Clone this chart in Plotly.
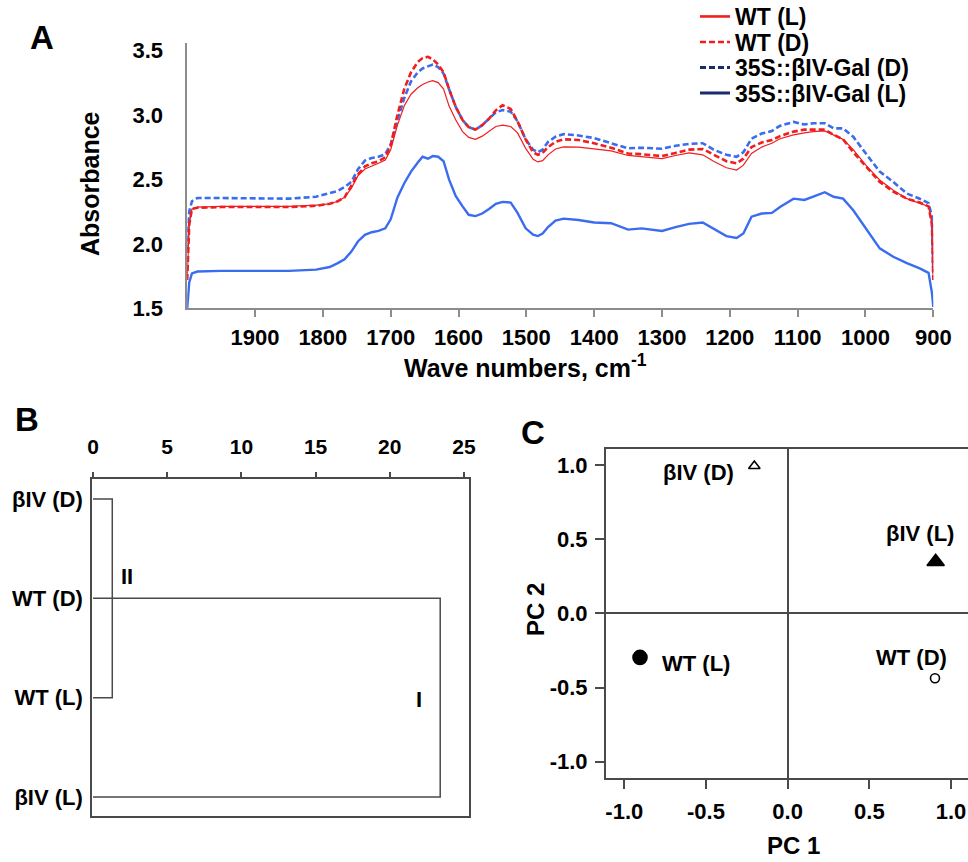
import plotly.graph_objects as go

# ---------------- Data ----------------
# Panel A: FTIR spectra (wave number, cm-1) and absorbance per sample
wave_numbers = [2000, 1997, 1993, 1985, 1950, 1900, 1850, 1810, 1790, 1778,
                1768, 1758, 1748, 1738, 1728, 1718, 1708, 1700, 1690, 1680,
                1670, 1660, 1653, 1645, 1638, 1630, 1622, 1614, 1604, 1594,
                1585, 1575, 1565, 1555, 1545, 1535, 1523, 1513, 1501, 1490,
                1483, 1476, 1468, 1457, 1445, 1423, 1400, 1375, 1350, 1330,
                1300, 1280, 1260, 1240, 1224, 1205, 1190, 1180, 1168, 1153,
                1138, 1126, 1106, 1090, 1077, 1060, 1047, 1033, 1018, 998,
                979, 959, 939, 920, 907, 902, 900]

wt_light = [1.72, 2.15, 2.27, 2.285, 2.29,
            2.29, 2.29, 2.30, 2.31, 2.33,
            2.36, 2.43, 2.53, 2.58, 2.60,
            2.625, 2.65, 2.73, 2.92, 3.07,
            3.16, 3.21, 3.235, 3.255, 3.265,
            3.25, 3.20, 3.07, 2.96, 2.87,
            2.825, 2.81, 2.835, 2.87, 2.91,
            2.92, 2.91, 2.86, 2.74, 2.655,
            2.635, 2.645, 2.69, 2.735, 2.752,
            2.75, 2.735, 2.72, 2.685, 2.675,
            2.66, 2.685, 2.705, 2.69, 2.64,
            2.59, 2.572, 2.61, 2.70, 2.75,
            2.78, 2.815, 2.845, 2.86, 2.87,
            2.875, 2.845, 2.81, 2.73, 2.60,
            2.495, 2.415, 2.35, 2.315, 2.29,
            2.16, 1.72]

wt_dark = [1.72, 2.15, 2.27, 2.28, 2.285,
           2.285, 2.285, 2.295, 2.31, 2.33,
           2.36, 2.45, 2.54, 2.60, 2.625,
           2.64, 2.67, 2.76, 3.00, 3.20,
           3.33, 3.41, 3.44, 3.45, 3.43,
           3.39, 3.33, 3.20, 3.06, 2.96,
           2.905, 2.885, 2.92, 2.97, 3.035,
           3.075, 3.045, 2.95, 2.81, 2.71,
           2.69, 2.705, 2.75, 2.79, 2.81,
           2.805, 2.78, 2.745, 2.70, 2.695,
           2.68, 2.705, 2.73, 2.735, 2.69,
           2.64, 2.624, 2.66, 2.75, 2.785,
           2.805, 2.835, 2.87, 2.885, 2.885,
           2.885, 2.845, 2.81, 2.71, 2.59,
           2.48, 2.405, 2.35, 2.32, 2.29,
           2.15, 1.72]

biv_dark = [1.95, 2.25, 2.33, 2.355, 2.355,
            2.35, 2.35, 2.365, 2.39, 2.41,
            2.44, 2.48, 2.58, 2.645, 2.665,
            2.675, 2.695, 2.77, 2.96, 3.13,
            3.26, 3.33, 3.36, 3.375, 3.39,
            3.37, 3.32, 3.20, 3.06, 2.96,
            2.905, 2.885, 2.92, 2.97, 3.02,
            3.037, 3.025, 2.95, 2.81, 2.73,
            2.71, 2.73, 2.79, 2.83, 2.85,
            2.84, 2.82, 2.78, 2.74, 2.745,
            2.737, 2.76, 2.775, 2.78, 2.73,
            2.69, 2.675, 2.71, 2.815, 2.855,
            2.875, 2.915, 2.945, 2.925, 2.935,
            2.935, 2.895, 2.895, 2.83, 2.69,
            2.56, 2.48, 2.39, 2.35, 2.315,
            2.21, 1.77]

biv_light = [1.50, 1.70, 1.77, 1.785, 1.79,
             1.79, 1.79, 1.80, 1.82, 1.85,
             1.88, 1.94, 2.02, 2.07, 2.09,
             2.10, 2.12, 2.19, 2.36, 2.47,
             2.56, 2.63, 2.675, 2.66, 2.68,
             2.675, 2.64, 2.50, 2.37, 2.29,
             2.225, 2.215, 2.235, 2.27, 2.31,
             2.325, 2.32, 2.24, 2.12, 2.07,
             2.06, 2.08, 2.13, 2.18, 2.195,
             2.185, 2.165, 2.16, 2.11, 2.12,
             2.10, 2.13, 2.155, 2.165, 2.12,
             2.06, 2.045, 2.08, 2.21, 2.235,
             2.24, 2.285, 2.35, 2.34, 2.365,
             2.40, 2.365, 2.35, 2.26, 2.11,
             1.965, 1.90, 1.85, 1.81, 1.775,
             1.62, 1.51]

legend_names = ["WT (L)", "WT (D)", "35S::βIV-Gal (D)", "35S::βIV-Gal (L)"]

a_xticks = [1900, 1800, 1700, 1600, 1500, 1400, 1300, 1200, 1100, 1000, 900]
a_yticks = [1.5, 2.0, 2.5, 3.0, 3.5]

# Panel B: dendrogram (rescaled distance), leaves top to bottom
leaf_labels = ["βIV (D)", "WT (D)", "WT (L)", "βIV (L)"]
leaf_rows = [1, 2, 3, 4]
cluster_II_dist = 1.3    # joins βIV (D) and WT (L)
cluster_I_dist = 23.4    # joins WT (D) and βIV (L)
b_xticks = [0, 5, 10, 15, 20, 25]

# Panel C: PCA scores
pca_labels = ["WT (L)", "WT (D)", "βIV (D)", "βIV (L)"]
pc1 = [-0.904, 0.902, -0.204, 0.906]
pc2 = [-0.297, -0.438, 0.993, 0.348]
c_ticks = [-1.0, -0.5, 0.0, 0.5, 1.0]
c_ticktext = ["-1.0", "-0.5", "0.0", "0.5", "1.0"]

# ---------------- Styling ----------------
FONT = "Liberation Sans, Arial, Helvetica, sans-serif"
RED = "#f01e1e"
BLUE = "#3a6cf0"
NAVY = "#1b2c6e"
DARK = "#4a4a4a"
W, H = 968, 862


def px_x(p):
    return p / W


def px_y(p):
    return 1 - p / H


fig = go.Figure()

# Panel A curves
fig.add_trace(go.Scatter(x=wave_numbers, y=biv_dark, mode="lines",
                         line=dict(color=BLUE, width=2.6, dash="6px,3px"),
                         showlegend=False, xaxis="x", yaxis="y"))
fig.add_trace(go.Scatter(x=wave_numbers, y=wt_light, mode="lines",
                         line=dict(color=RED, width=1.2),
                         showlegend=False, xaxis="x", yaxis="y"))
fig.add_trace(go.Scatter(x=wave_numbers, y=wt_dark, mode="lines",
                         line=dict(color=RED, width=2.6, dash="6px,3px"),
                         showlegend=False, xaxis="x", yaxis="y"))
fig.add_trace(go.Scatter(x=wave_numbers, y=biv_light, mode="lines",
                         line=dict(color=BLUE, width=2.4),
                         showlegend=False, xaxis="x", yaxis="y"))

# Legend entries (legend swatches are navy for the transgenic lines);
# one legend per entry so the row spacing can match the reference.
legend_styles = [dict(color=RED, width=2.6),
                 dict(color=RED, width=2.6, dash="6px,3px"),
                 dict(color=NAVY, width=3, dash="6px,3px"),
                 dict(color=NAVY, width=3)]
legend_ids = ["legend", "legend2", "legend3", "legend4"]
legend_rows_px = [16.5, 42, 67.5, 93]
for name, ls, lid in zip(legend_names, legend_styles, legend_ids):
    fig.add_trace(go.Scatter(x=[None], y=[None], mode="lines", name=name,
                             line=ls, showlegend=True, legend=lid,
                             xaxis="x", yaxis="y"))

# Panel B dendrogram
top_leaf, mid_leaf, low_leaf, bottom_leaf = leaf_rows
fig.add_trace(go.Scatter(
    x=[0, cluster_II_dist, cluster_II_dist, 0],
    y=[top_leaf, top_leaf, low_leaf, low_leaf],
    mode="lines", line=dict(color=DARK, width=1.5),
    showlegend=False, xaxis="x2", yaxis="y2"))
fig.add_trace(go.Scatter(
    x=[0, cluster_I_dist, cluster_I_dist, 0],
    y=[mid_leaf, mid_leaf, bottom_leaf, bottom_leaf],
    mode="lines", line=dict(color=DARK, width=1.5),
    showlegend=False, xaxis="x2", yaxis="y2"))

# Panel C PCA points
symbols = ["circle", "circle-open", "triangle-up-open", "triangle-up"]
sizes = [14, 9, 10, 15]
for i in range(len(pc1)):
    fig.add_trace(go.Scatter(
        x=[pc1[i]], y=[pc2[i]], mode="markers",
        marker=dict(symbol=symbols[i], size=sizes[i], color="black",
                    line=dict(color="black", width=1.6)),
        showlegend=False, xaxis="x3", yaxis="y3", cliponaxis=False))

tickfont = dict(family=FONT, size=22, color="black", weight="bold")
tickfont_b = dict(family=FONT, size=21, color="black", weight="bold")

legend_layout = {}
for lid, ly in zip(legend_ids, legend_rows_px):
    legend_layout[lid] = dict(
        x=px_x(695), y=px_y(ly), xanchor="left", yanchor="middle",
        bgcolor="rgba(0,0,0,0)", borderwidth=0,
        font=dict(family=FONT, size=23, color="black", weight="bold"),
        itemwidth=30)

fig.update_layout(
    autosize=True,
    margin=dict(l=0, r=0, t=0, b=0, autoexpand=False),
    paper_bgcolor="white", plot_bgcolor="white",
    font=dict(family=FONT, color="black"),
    showlegend=True,
    **legend_layout,
    # Panel A
    xaxis=dict(domain=[px_x(187.2), px_x(933.3)], anchor="y",
               range=[2000, 900], tickvals=a_xticks,
               ticks="outside", ticklen=7, tickwidth=1.5, tickcolor="#8c8c8c",
               showline=True, linecolor="#8c8c8c", linewidth=1.5,
               showgrid=False, zeroline=False, tickfont=tickfont,
               ticklabelstandoff=2),
    yaxis=dict(domain=[px_y(308.3), px_y(43)], anchor="x",
               range=[1.5, 3.557], tickvals=a_yticks,
               ticktext=[f"{v:.1f}" for v in a_yticks],
               ticks="", showline=True, linecolor="#8c8c8c", linewidth=1.5,
               showgrid=False, zeroline=False, tickfont=tickfont,
               ticklabelstandoff=18),
    # Panel B
    xaxis2=dict(domain=[px_x(92), px_x(469)], anchor="y2", side="top",
                range=[-0.067, 25.34], tickvals=b_xticks,
                ticks="outside", ticklen=5, tickwidth=1.5, tickcolor=DARK,
                showline=True, mirror=True, linecolor=DARK, linewidth=1.5,
                showgrid=False, zeroline=False, tickfont=tickfont_b,
                ticklabelstandoff=10),
    yaxis2=dict(domain=[px_y(816), px_y(479)], anchor="x2",
                range=[4.19, 0.8], tickvals=leaf_rows, ticktext=leaf_labels,
                ticks="", showline=True, mirror=True, linecolor=DARK,
                linewidth=1.5, showgrid=False, zeroline=False,
                tickfont=tickfont, ticklabelstandoff=3),
    # Panel C
    xaxis3=dict(domain=[px_x(605.7), 1.0], anchor="y3",
                range=[-1.114, 1.104], tickvals=c_ticks, ticktext=c_ticktext,
                ticks="outside", ticklen=9, tickwidth=1.5, tickcolor=DARK,
                showline=True, mirror=True, linecolor=DARK, linewidth=1.5,
                showgrid=False, zeroline=True, zerolinecolor=DARK,
                zerolinewidth=1.5, tickfont=tickfont, ticklabelstandoff=4),
    yaxis3=dict(domain=[px_y(778), px_y(449)], anchor="x3",
                range=[-1.11, 1.108], tickvals=c_ticks, ticktext=c_ticktext,
                ticks="outside", ticklen=9, tickwidth=1.5, tickcolor=DARK,
                showline=True, mirror=False, linecolor=DARK, linewidth=1.5,
                showgrid=False, zeroline=True, zerolinecolor=DARK,
                zerolinewidth=1.5, tickfont=tickfont, ticklabelstandoff=3),
)

ann_font = dict(family=FONT, color="black")
annotations = []


def paper_text(text, x, y, size, angle=0, yanchor="middle"):
    annotations.append(dict(text=f"<b>{text}</b>", x=px_x(x), y=px_y(y),
                            xref="paper", yref="paper", showarrow=False,
                            xanchor="center", yanchor=yanchor,
                            textangle=angle,
                            font=dict(size=size, **ann_font)))


# Panel letters
paper_text("A", 42, 37, 33)
paper_text("B", 27, 419, 33)
paper_text("C", 533, 432, 33)
# Axis titles
paper_text("Absorbance", 90, 184, 25, angle=-90)
paper_text("Wave numbers, cm<sup>-1</sup>", 525, 366, 25)
paper_text("PC 2", 535, 610, 24, angle=-90)
paper_text("PC 1", 793, 861, 24, yanchor="bottom")

# Dendrogram cluster labels
annotations.append(dict(text="<b>II</b>", x=2.3, y=1.78, xref="x2", yref="y2",
                        showarrow=False, font=dict(size=22, **ann_font)))
annotations.append(dict(text="<b>I</b>", x=21.97, y=3.02, xref="x2", yref="y2",
                        showarrow=False, font=dict(size=22, **ann_font)))

# PCA point labels
pca_label_pos = {"βIV (D)": (-0.547, 0.948), "βIV (L)": (0.81, 0.541),
                 "WT (L)": (-0.561, -0.335), "WT (D)": (0.759, -0.30)}
for name in pca_labels:
    lx, ly = pca_label_pos[name]
    annotations.append(dict(text=f"<b>{name}</b>", x=lx, y=ly,
                            xref="x3", yref="y3", showarrow=False,
                            font=dict(size=22, **ann_font)))

fig.update_layout(annotations=annotations)

fig.write_html(
    "out.html",
    config={"displayModeBar": False, "responsive": True},
    default_width="100vw",
    default_height="100vh",
    post_script="document.body.style.margin='0';"
                "document.body.style.overflow='hidden';"
                "window.dispatchEvent(new Event('resize'));",
)
